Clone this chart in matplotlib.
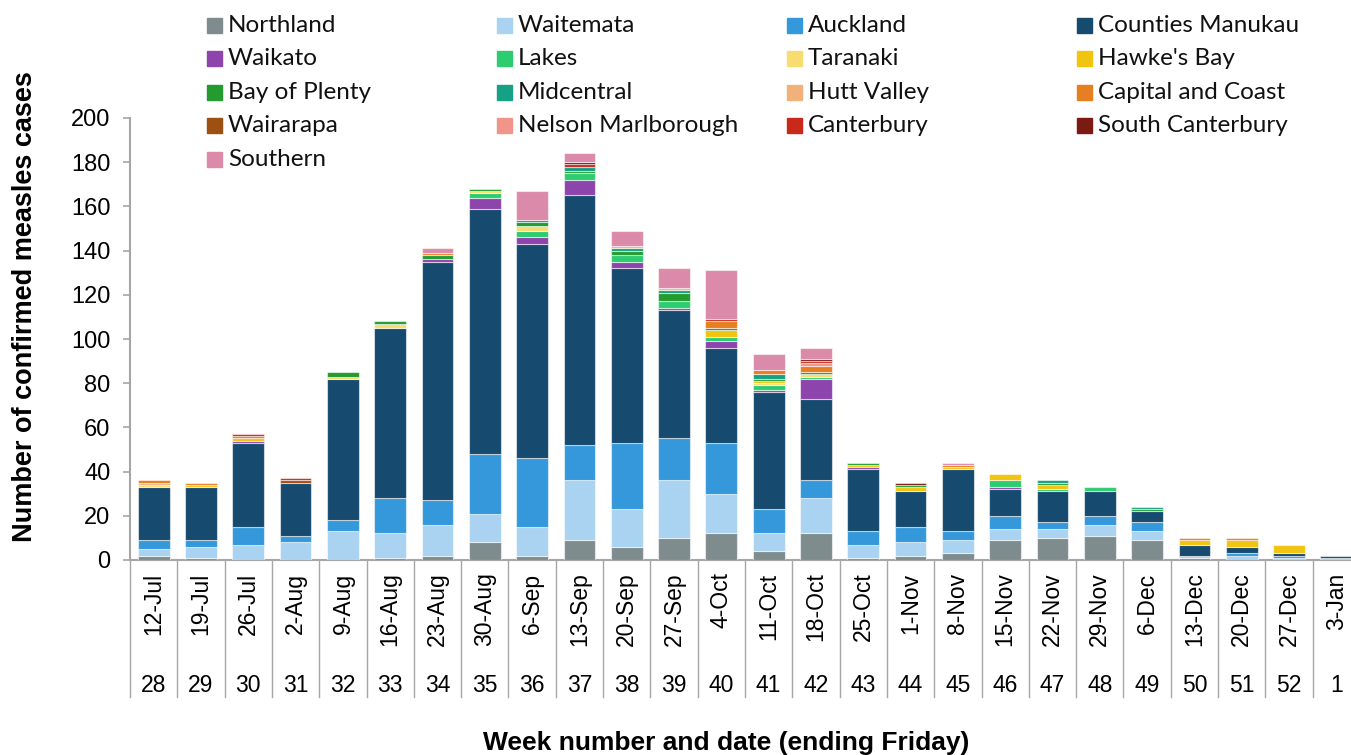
import numpy as np
import matplotlib
matplotlib.use('Agg')
import matplotlib.pyplot as plt
from matplotlib.patches import Rectangle
from matplotlib.transforms import blended_transform_factory

dates = ['12-Jul', '19-Jul', '26-Jul', '2-Aug', '9-Aug', '16-Aug', '23-Aug', '30-Aug',
         '6-Sep', '13-Sep', '20-Sep', '27-Sep', '4-Oct', '11-Oct', '18-Oct', '25-Oct',
         '1-Nov', '8-Nov', '15-Nov', '22-Nov', '29-Nov', '6-Dec', '13-Dec', '20-Dec',
         '27-Dec', '3-Jan']
weeks = ['28', '29', '30', '31', '32', '33', '34', '35', '36', '37', '38', '39', '40',
         '41', '42', '43', '44', '45', '46', '47', '48', '49', '50', '51', '52', '1']

regions = ['Northland', 'Waitemata', 'Auckland', 'Counties Manukau',
           'Waikato', 'Lakes', 'Taranaki', "Hawke's Bay",
           'Bay of Plenty', 'Midcentral', 'Hutt Valley', 'Capital and Coast',
           'Wairarapa', 'Nelson Marlborough', 'Canterbury', 'South Canterbury',
           'Southern']

northland = [2, 1, 0, 0, 0, 1, 2, 8, 2, 9, 6, 10, 12, 4, 12, 1, 2, 3, 9, 10, 11, 9, 1, 0, 0, 0]
waitemata = [3, 5, 7, 8, 13, 11, 14, 13, 13, 27, 17, 26, 18, 8, 16, 6, 6, 6, 5, 4, 5, 4, 1, 2, 1, 1]
auckland = [4, 3, 8, 3, 5, 16, 11, 27, 31, 16, 30, 19, 23, 11, 8, 6, 7, 4, 6, 3, 4, 4, 0, 1, 1, 0]
counties_manukau = [24, 24, 38, 24, 64, 77, 108, 111, 97, 113, 79, 58, 43, 53, 37, 28, 16, 28,
                    12, 14, 11, 5, 5, 3, 1, 1]
waikato = [0, 0, 1, 0, 0, 0, 1, 5, 3, 7, 3, 1, 3, 1, 9, 1, 0, 0, 1, 0, 0, 0, 0, 0, 0, 0]
lakes = [0, 0, 0, 0, 0, 0, 0, 2, 3, 3, 3, 3, 2, 2, 1, 0, 0, 0, 3, 1, 2, 0, 0, 0, 0, 0]
taranaki = [1, 0, 0, 0, 1, 2, 0, 1, 2, 0, 0, 0, 0, 1, 1, 0, 0, 0, 0, 0, 0, 0, 0, 0, 0, 0]
hawkes_bay = [0, 1, 1, 0, 0, 0, 0, 0, 0, 0, 0, 0, 3, 1, 0, 1, 2, 1, 3, 2, 0, 0, 2, 3, 4, 0]
bay_of_plenty = [0, 0, 0, 0, 2, 1, 2, 1, 2, 1, 2, 4, 1, 1, 1, 1, 1, 0, 0, 1, 0, 1, 0, 0, 0, 0]
midcentral = [0, 0, 0, 0, 0, 0, 0, 0, 1, 2, 1, 1, 0, 2, 0, 0, 0, 0, 0, 1, 0, 1, 0, 0, 0, 0]
hutt_valley = [1, 0, 0, 0, 0, 0, 0, 0, 0, 0, 1, 1, 0, 0, 0, 0, 0, 0, 0, 0, 0, 0, 0, 0, 0, 0]
capital_coast = [1, 1, 1, 0, 0, 0, 1, 0, 0, 0, 0, 0, 3, 2, 3, 0, 0, 1, 0, 0, 0, 0, 1, 1, 0, 0]
wairarapa = [0, 0, 0, 1, 0, 0, 0, 0, 0, 0, 0, 0, 0, 0, 0, 0, 0, 0, 0, 0, 0, 0, 0, 0, 0, 0]
nelson_marlborough = [0, 0, 0, 0, 0, 0, 0, 0, 0, 0, 0, 0, 0, 0, 1, 0, 0, 0, 0, 0, 0, 0, 0, 0, 0, 0]
canterbury = [0, 0, 1, 1, 0, 0, 0, 0, 0, 1, 0, 0, 1, 0, 1, 0, 0, 0, 0, 0, 0, 0, 0, 0, 0, 0]
south_canterbury = [0, 0, 0, 0, 0, 0, 0, 0, 0, 1, 0, 0, 0, 0, 1, 0, 1, 0, 0, 0, 0, 0, 0, 0, 0, 0]
southern = [0, 0, 0, 0, 0, 0, 2, 0, 13, 4, 7, 9, 22, 7, 5, 0, 0, 1, 0, 0, 0, 0, 0, 0, 0, 0]

colors = ['#7F8C8D', '#A9D3F0', '#3498DB', '#164A6E',
          '#8E44AD', '#2ECC71', '#F7DC6F', '#F1C40F',
          '#239B2F', '#16A085', '#F0B27A', '#E67E22',
          '#9C5113', '#F1948A', '#C9291A', '#7B1A12',
          '#DC8AAA']

AXIS_GREY = '#A6A6A6'
W, H = 1351, 755


def fx(px):
    return px / W


def fy(px):
    return 1 - px / H


def draw_bars(ax, series):
    x = np.arange(len(dates))
    bottom = np.zeros(len(dates))
    for vals, c in zip(series, colors):
        vals = np.array(vals, dtype=float)
        lw = [0.8 if v > 0 else 0 for v in vals]
        ax.bar(x, vals, width=0.67, bottom=bottom, color=c,
               edgecolor=(1, 1, 1, 0.55), linewidth=lw, zorder=3)
        bottom += vals


def draw_axes(ax):
    n = len(dates)
    ax.set_xlim(-0.5, n - 0.5)
    ax.set_ylim(0, 200)
    ax.set_yticks(np.arange(0, 201, 20))
    ax.tick_params(axis='y', labelsize=17, length=5, width=1.2, color=AXIS_GREY, pad=9)
    for lab in ax.get_yticklabels():
        lab.set_fontfamily('Liberation Sans')

    ax.set_xticks(np.arange(n))
    ax.set_xticklabels(dates, rotation=90, fontsize=16.5, family='Liberation Sans',
                       va='top', ha='center')
    ax.tick_params(axis='x', length=0, pad=9)

    for side in ['top', 'right']:
        ax.spines[side].set_visible(False)
    for side in ['left', 'bottom']:
        ax.spines[side].set_color(AXIS_GREY)
        ax.spines[side].set_linewidth(1.5)

    # multi-level category separators below the axis
    trans = blended_transform_factory(ax.transData, ax.transAxes)
    for b in np.arange(n + 1) - 0.5:
        ax.plot([b, b], [0, -137 / 442], color=AXIS_GREY, lw=1.0,
                transform=trans, clip_on=False)
    for i, wk in enumerate(weeks):
        ax.text(i, -125 / 442, wk, transform=trans, ha='center', va='center',
                fontsize=16.5, family='Liberation Sans')


def draw_legend(fig):
    for k, name in enumerate(regions):
        row, col = divmod(k, 4)
        x0 = 207 + col * 290
        yc = 25 + row * 33.6
        fig.patches.append(Rectangle((fx(x0), fy(yc + 7.5)), fx(15), 15 / H,
                                     transform=fig.transFigure, color=colors[k]))
        fig.text(fx(x0 + 21), fy(yc), name, ha='left', va='center',
                 fontsize=17.5, family='Lato', color='#111111')


def main():
    fig = plt.figure(figsize=(W / 100, H / 100), dpi=100)
    ax = fig.add_axes([fx(130), fy(560), fx(1230), 442 / H])
    series = [northland, waitemata, auckland, counties_manukau, waikato, lakes,
              taranaki, hawkes_bay, bay_of_plenty, midcentral, hutt_valley,
              capital_coast, wairarapa, nelson_marlborough, canterbury,
              south_canterbury, southern]
    draw_bars(ax, series)
    draw_axes(ax)
    draw_legend(fig)

    fig.text(fx(25), fy(307), 'Number of confirmed measles cases', rotation=90,
             ha='center', va='center', fontsize=19.5, fontweight='bold',
             family='Liberation Sans')
    fig.text(fx(726), fy(743), 'Week number and date (ending Friday)',
             ha='center', va='center', fontsize=19, fontweight='bold',
             family='Liberation Sans')

    fig.savefig('out.png', dpi=100)


if __name__ == "__main__":
    main()
